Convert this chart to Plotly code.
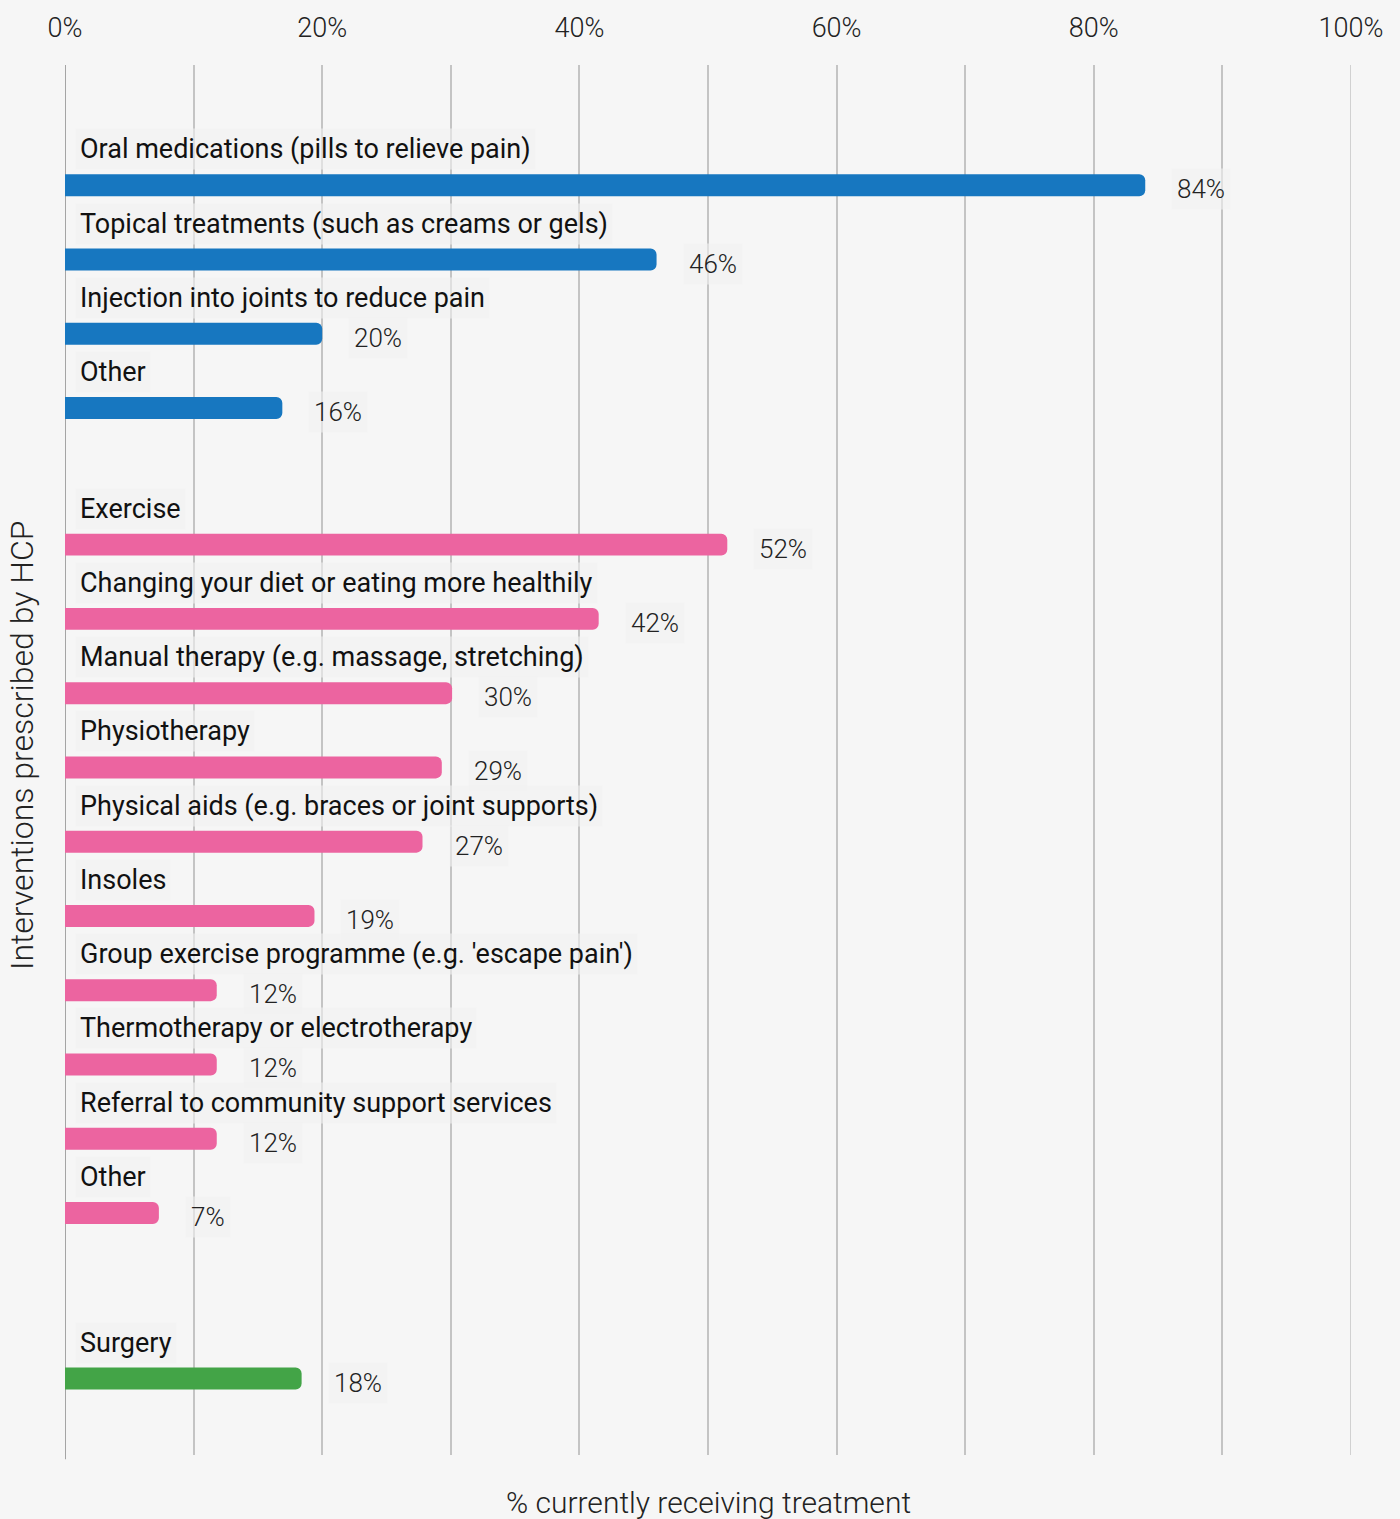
import plotly.graph_objects as go

# ---- data ----
pharma_labels = [
    "Oral medications (pills to relieve pain)",
    "Topical treatments (such as creams or gels)",
    "Injection into joints to reduce pain",
    "Other",
]
pharma_values = [84, 46, 20, 16.9]
pharma_text = ["84%", "46%", "20%", "16%"]

nonpharma_labels = [
    "Exercise",
    "Changing your diet or eating more healthily",
    "Manual therapy (e.g. massage, stretching)",
    "Physiotherapy",
    "Physical aids (e.g. braces or joint supports)",
    "Insoles",
    "Group exercise programme (e.g. 'escape pain')",
    "Thermotherapy or electrotherapy",
    "Referral to community support services",
    "Other",
]
nonpharma_values = [51.5, 41.5, 30.1, 29.3, 27.8, 19.4, 11.8, 11.8, 11.8, 7.3]
nonpharma_text = ["52%", "42%", "30%", "29%", "27%", "19%", "12%", "12%", "12%", "7%"]

surgery_labels = ["Surgery"]
surgery_values = [18.4]
surgery_text = ["18%"]

tick_values = [0, 20, 40, 60, 80, 100]
tick_labels = ["0%", "20%", "40%", "60%", "80%", "100%"]

x_title = "% currently receiving treatment"
y_title = "Interventions prescribed by HCP"

# ---- styling ----
BG = "#f6f6f6"
GRID = "#c4c4c4"
colors = ["#1777c0", "#ec64a0", "#43a447"]
groups = [
    (pharma_labels, pharma_values, pharma_text),
    (nonpharma_labels, nonpharma_values, nonpharma_text),
    (surgery_labels, surgery_values, surgery_text),
]
group_gaps = [0, 1.84, 2.23]
LABEL_FONT = "Roboto, sans-serif"
LIGHT_FONT = "Roboto, Lato, sans-serif"

fig = go.Figure()
annotations = []
pos = 0.0
for gi, ((labels, values, texts), color) in enumerate(zip(groups, colors)):
    ys = []
    for i in range(len(labels)):
        if gi == 0 and i == 0:
            pass
        elif i == 0:
            pos += group_gaps[gi]
        else:
            pos += 1.0
        ys.append(pos)
    fig.add_trace(go.Bar(
        x=values, y=ys, orientation="h", width=0.295,
        marker=dict(color=color, line=dict(width=0)),
        hoverinfo="skip", showlegend=False,
    ))
    for lab, val, txt, y in zip(labels, values, texts, ys):
        annotations.append(dict(
            x=0, y=y, xref="x", yref="y", text=lab, showarrow=False,
            xanchor="left", yanchor="middle", xshift=10, yshift=36,
            font=dict(family=LABEL_FONT, size=27, color="#111111"),
            bgcolor="rgba(242,242,242,0.6)", borderpad=4,
        ))
        annotations.append(dict(
            x=val, y=y, xref="x", yref="y", text=txt, showarrow=False,
            xanchor="left", yanchor="middle", xshift=26, yshift=-4,
            font=dict(family=LIGHT_FONT, size=26, color="#222222", weight=300),
            bgcolor="rgba(242,242,242,0.6)", borderpad=5,
        ))

# axis titles
annotations.append(dict(
    x=0.5, y=0, xref="paper", yref="paper", yshift=-47, text=x_title,
    showarrow=False, xanchor="center", yanchor="middle",
    font=dict(family=LIGHT_FONT, size=30, color="#222222", weight=300),
))
annotations.append(dict(
    x=0, y=0.51, xref="paper", yref="paper", xshift=-43, text=y_title,
    showarrow=False, xanchor="center", yanchor="middle", textangle=-90,
    font=dict(family=LIGHT_FONT, size=32, color="#222222", weight=300),
))

fig.update_layout(
    width=1400, height=1519,
    margin=dict(l=65, r=49, t=62, b=64),
    paper_bgcolor=BG, plot_bgcolor=BG,
    barcornerradius=6,
    annotations=annotations,
    xaxis=dict(
        side="top", range=[0, 100], tickvals=tick_values, ticktext=tick_labels,
        showgrid=True, gridcolor=GRID, gridwidth=1.5,
        minor=dict(dtick=10, showgrid=True, gridcolor=GRID, gridwidth=1.5),
        zeroline=False, showline=False, ticks="", ticklabelstandoff=22,
        tickfont=dict(family=LIGHT_FONT, size=27, color="#222222", weight=300),
        fixedrange=True,
    ),
    yaxis=dict(
        range=[17.1, -1.62], showticklabels=False, showgrid=False,
        zeroline=False, showline=False, ticks="", fixedrange=True,
    ),
    shapes=[
        dict(type="line", xref="x", yref="paper", x0=0, x1=0, y0=-0.003, y1=1,
             line=dict(color="#8a8a8a", width=1.5), layer="below"),
        dict(type="line", xref="x", yref="paper", x0=100, x1=100, y0=0, y1=1,
             line=dict(color=GRID, width=1.5), layer="below"),
    ],
)

fig.write_html(
    "out.html",
    config={"displayModeBar": False},
    post_script="document.body.style.margin='0';document.body.style.background='%s';" % BG,
)
